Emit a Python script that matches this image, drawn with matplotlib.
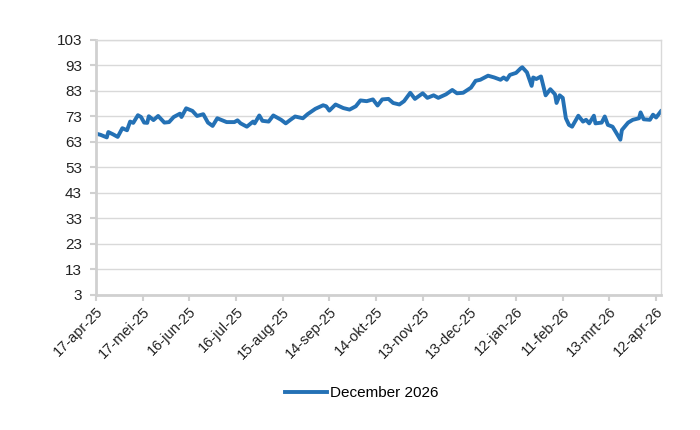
import numpy as np
import matplotlib
matplotlib.use('Agg')
import matplotlib.pyplot as plt

# days since 17-apr-25 and price
days = [0, 3, 7, 8, 11, 14, 17, 20, 22, 24, 27, 29, 31, 33, 34, 37, 40, 44, 47, 50,
        54, 55, 58, 62, 65, 69, 72, 75, 78, 84, 89, 91, 93, 97, 101, 102, 105, 107, 111, 114,
        119, 122, 125, 128, 133, 136, 141, 146, 148, 150, 154, 159, 163, 167, 170, 174, 178, 181, 184, 188,
        191, 195, 198, 202, 205, 210, 213, 217, 220, 225, 229, 232, 236, 241, 244, 247, 252, 256, 260, 262,
        264, 266, 270, 273, 274, 277, 280, 281, 283, 286, 289, 292, 295, 296, 298, 300, 302, 304, 306, 310,
        313, 315, 317, 320, 321, 325, 327, 329, 332, 334, 337, 338, 342, 345, 349, 350, 352, 356, 358, 360,
        363]
values = [66.3, 65.8, 64.8, 66.9, 66.0, 65.0, 68.4, 67.6, 71.0, 70.5, 73.5, 72.8, 70.6, 70.5, 73.1, 71.6, 73.2, 70.6, 70.8, 72.8,
          74.1, 72.8, 76.2, 75.2, 73.2, 73.9, 70.6, 69.3, 72.3, 70.8, 70.8, 71.5, 70.3, 69.0, 71.0, 70.3, 73.4, 71.3, 71.0, 73.4,
          71.7, 70.3, 71.7, 73.0, 72.3, 73.9, 76.0, 77.4, 77.0, 75.3, 77.7, 76.3, 75.7, 77.0, 79.3, 79.0, 79.7, 77.3, 79.7, 79.9,
          78.3, 77.7, 79.0, 82.3, 79.9, 82.1, 80.3, 81.3, 80.3, 81.7, 83.4, 82.1, 82.3, 84.3, 87.0, 87.4, 89.0, 88.3, 87.4, 88.3,
          87.4, 89.3, 90.1, 91.9, 92.3, 90.3, 85.0, 88.3, 87.7, 88.7, 81.3, 83.7, 81.7, 78.3, 81.3, 80.3, 72.3, 69.7, 69.0, 73.3,
          71.0, 71.7, 70.3, 73.3, 70.3, 70.6, 73.0, 69.7, 69.0, 67.0, 63.9, 67.7, 70.6, 71.7, 72.3, 74.6, 71.9, 71.7, 73.7, 72.6,
          75.0]

tick_days = [0, 30, 60, 90, 120, 150, 180, 210, 240, 270, 300, 330, 360]
tick_labels = ['17-apr-25', '17-mei-25', '16-jun-25', '16-jul-25', '15-aug-25', '14-sep-25', '14-okt-25',
               '13-nov-25', '13-dec-25', '12-jan-26', '11-feb-26', '13-mrt-26', '12-apr-26']
y_ticks = [3, 13, 23, 33, 43, 53, 63, 73, 83, 93, 103]

plt.rcParams['font.family'] = ['Liberation Sans', 'DejaVu Sans']

fig = plt.figure(figsize=(7, 4.3), dpi=100)
ax = fig.add_axes([0.137, 0.314, 0.807, 0.593])

ax.plot(days, values, color='#2471b5', lw=2.8, label='December 2026', solid_joinstyle='round')

ax.set_xlim(0, 363)
ax.set_ylim(3, 103)
ax.set_yticks(y_ticks)
ax.set_xticks(tick_days)
ax.set_xticklabels(tick_labels, rotation=45, ha='right', va='top', rotation_mode='anchor')
ax.tick_params(axis='both', colors='#d0d0d0', labelcolor='#222222', labelsize=10.5, length=4, width=1.5)
ax.tick_params(axis='x', pad=3)
ax.tick_params(axis='y', labelsize=11, pad=6)
ax.grid(axis='y', color='#d9d9d9', lw=1)
ax.set_axisbelow(True)

for side in ['top', 'right']:
    ax.spines[side].set_color('#d9d9d9')
    ax.spines[side].set_linewidth(1)
for side in ['left', 'bottom']:
    ax.spines[side].set_color('#d0d0d0')
    ax.spines[side].set_linewidth(2)

fig.legend(loc='center', bbox_to_anchor=(0.517, 0.086), frameon=False, fontsize=11,
           handlelength=2.7, handletextpad=0.2)

plt.savefig('out.png', dpi=100)
